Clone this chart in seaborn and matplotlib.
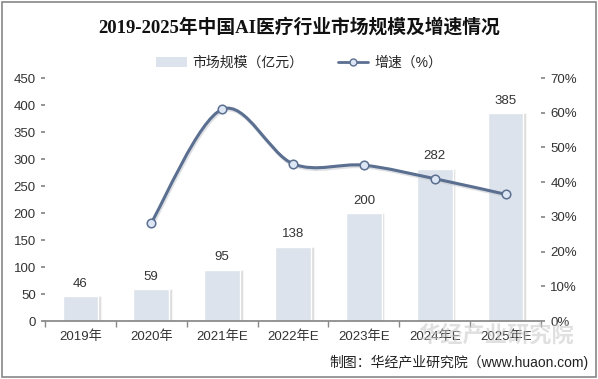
import numpy as np
import pandas as pd
import matplotlib
matplotlib.use('Agg')
import matplotlib.pyplot as plt
import seaborn as sns
from matplotlib.path import Path
from matplotlib.patches import PathPatch, Rectangle
from matplotlib.lines import Line2D
from matplotlib.patches import Patch

years = ['2019年', '2020年', '2021年E', '2022年E', '2023年E', '2024年E', '2025年E']
market = [46, 59, 95, 138, 200, 282, 385]
growth = [np.nan, 28.3, 61.0, 45.3, 44.9, 41.0, 36.5]

sns.set_theme(style='white')
plt.rcParams['font.family'] = ['Liberation Sans', 'Noto Sans CJK SC', 'DejaVu Sans']

bar_color = '#dde3ec'
line_color = '#5b6f91'

df = pd.DataFrame({'year': years, 'market': market, 'growth': growth})

fig = plt.figure(figsize=[5.98, 3.79], dpi=100)
ax = fig.add_axes([0.075, 0.153, 0.83, 0.641])

# bar shadows (Excel style)
sns.barplot(data=df, x='year', y='market', color='#b8b8b8', width=0.5,
            saturation=1, ax=ax, zorder=1)
for p in ax.patches:
    p.set_x(p.get_x() + 0.04)
    p.set_alpha(0.5)
n_shadow = len(ax.patches)
sns.barplot(data=df, x='year', y='market', color=bar_color, width=0.5,
            saturation=1, ax=ax, zorder=2)
bars = ax.patches[n_shadow:]
for p, v in zip(bars, market):
    ax.annotate(str(v), (p.get_x() + p.get_width() / 2, v + 12),
                ha='center', va='bottom', fontsize=9.5, color='#333333')

ax.set_ylim(0, 450)
ax.set_yticks(range(0, 451, 50))
ax.set_xlim(-0.5, 6.5)
ax.set_xlabel('')
ax.set_ylabel('')
ax.tick_params(axis='both', labelsize=9.5, colors='#333333')
ax.tick_params(axis='y', length=3, color='#888888', left=True)
ax.set_xticks(np.arange(-0.5, 7, 1), minor=True)
ax.tick_params(axis='x', which='major', length=0, pad=7)
ax.tick_params(axis='x', which='minor', length=4, color='#888888', bottom=True)
for s in ['top', 'right', 'left']:
    ax.spines[s].set_visible(False)
ax.spines['bottom'].set_color('#888888')

ax2 = ax.twinx()
ax2.set_ylim(0, 70)
ax2.set_yticks(range(0, 71, 10))
ax2.set_yticklabels([f'{t}%' for t in range(0, 71, 10)])
ax2.tick_params(axis='y', labelsize=9.5, colors='#333333', length=3, right=True)
ax2.tick_params(axis='y', color='#888888')
for s in ['top', 'right', 'left', 'bottom']:
    ax2.spines[s].set_visible(False)

# smooth curve through the growth points (Catmull-Rom -> Bezier)
xs = [i for i, g in enumerate(growth) if not np.isnan(g)]
ys = [g for g in growth if not np.isnan(g)]
verts = [(xs[0], ys[0])]
codes = [Path.MOVETO]
for i in range(len(xs) - 1):
    x0, y0 = (xs[i - 1], ys[i - 1]) if i > 0 else (xs[i], ys[i])
    x1, y1 = xs[i], ys[i]
    x2, y2 = xs[i + 1], ys[i + 1]
    x3, y3 = (xs[i + 2], ys[i + 2]) if i + 2 < len(xs) else (x2, y2)
    t = 6.0
    verts += [(x1 + (x2 - x0) / t, y1 + (y2 - y0) / t),
              (x2 - (x3 - x1) / t, y2 - (y3 - y1) / t),
              (x2, y2)]
    codes += [Path.CURVE4] * 3
shadow = ax2.transData + matplotlib.transforms.ScaledTranslation(1/100, -1.5/100, fig.dpi_scale_trans)
ax2.add_patch(PathPatch(Path(verts, codes), facecolor='none', edgecolor='#c9ccd2',
                        lw=2.6, zorder=3, alpha=0.6, transform=shadow))
ax2.add_patch(PathPatch(Path(verts, codes), facecolor='none', edgecolor=line_color,
                        lw=2.2, zorder=4))
sns.scatterplot(data=df, x='year', y='growth', ax=ax2, s=38, color='#dce6f4',
                edgecolor=line_color, linewidth=1.1, zorder=5, legend=False)
ax2.set_xlabel('')
ax2.set_ylabel('')
ax.set_xlim(-0.5, 6.5)
ax2.set_xlim(-0.5, 6.5)

fig.text(0.5, 0.928, '2019-2025年中国AI医疗行业市场规模及增速情况', ha='center', va='center',
         fontsize=13.5, fontweight='bold', color='#111111',
         family=['Liberation Serif', 'Noto Sans CJK SC'])

handles = [Patch(facecolor=bar_color, edgecolor='none'),
           Line2D([0], [0], color=line_color, lw=2, marker='o', markersize=5,
                  markerfacecolor='#dce6f4', markeredgecolor=line_color)]
fig.legend(handles, ['市场规模（亿元）', '增速（%）'], loc='center', ncol=2,
           bbox_to_anchor=(0.5, 0.835), frameon=False, fontsize=10,
           handlelength=2.2, columnspacing=2.5, handletextpad=0.4)

# watermark
fig.text(0.83, 0.115, '华经产业研究院', ha='center', va='center', fontsize=16,
         color='#c8c8c8', alpha=0.55, fontweight='bold')
fig.text(0.985, 0.045, '制图：华经产业研究院（www.huaon.com)', ha='right', va='center',
         fontsize=10, color='#222222')

fig.patches.append(Rectangle((0.004, 0.004), 0.992, 0.992, transform=fig.transFigure,
                             fill=False, edgecolor='#888888', lw=1.2))

fig.savefig('out.png', dpi=100)
